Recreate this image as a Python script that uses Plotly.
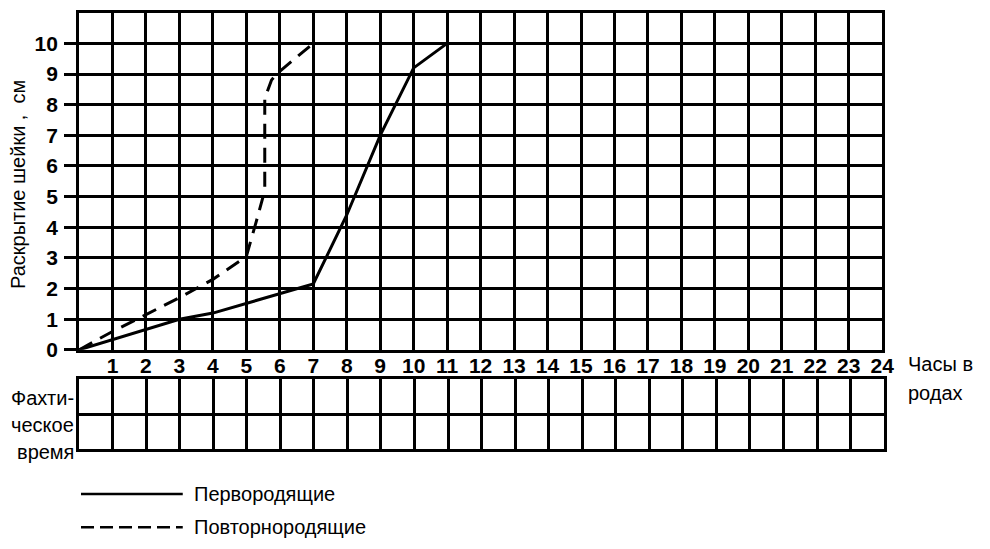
import plotly.graph_objects as go

# Cervical dilation (cm) against hours of labour
hours_primi = [0, 3, 4, 7, 8, 9, 10, 11]
dilation_primi = [0, 1, 1.2, 2.15, 4.4, 7.0, 9.2, 10]

hours_multi = [0, 1, 2, 3, 4, 5, 5.3, 5.55, 5.55, 5.75, 5.9, 7]
dilation_multi = [0, 0.6, 1.15, 1.7, 2.3, 3.05, 4.2, 5.2, 8.2, 8.8, 9.0, 10]

x_ticks = list(range(1, 25))
y_ticks = list(range(0, 11))

legend_labels = ["Первородящие", "Повторнородящие"]
y_title = "Раскрытие шейки\u00a0,\u00a0\u00a0см"
x_title = ["Часы в", "родах"]
row_title = ["Фахти-", "ческое", "время"]

W, H = 990, 549
FONT = "Liberation Sans, Arial, sans-serif"
INK = "#000000"


def px(x):
    return x / W


def py(y):
    return 1 - y / H


fig = go.Figure()

fig.add_trace(go.Scatter(
    x=hours_primi, y=dilation_primi, mode="lines",
    line=dict(color=INK, width=3), name=legend_labels[0], showlegend=False,
))
fig.add_trace(go.Scatter(
    x=hours_multi, y=dilation_multi, mode="lines",
    line=dict(color=INK, width=3, dash="15px,9px"), name=legend_labels[1],
    showlegend=False,
))
# empty trace so the time table subplot is drawn
fig.add_trace(go.Scatter(x=[None], y=[None], xaxis="x2", yaxis="y2",
                         showlegend=False, hoverinfo="skip"))

grid = dict(showgrid=True, gridcolor=INK, gridwidth=2.5, zeroline=False,
            showline=True, linecolor=INK, linewidth=3, mirror=True)

tick_font = dict(family=FONT, size=21, color=INK, weight="bold")

fig.update_layout(
    width=W, height=H,
    margin=dict(l=0, r=0, t=0, b=0),
    paper_bgcolor="white", plot_bgcolor="white",
    xaxis=dict(
        domain=[px(80), px(893)], range=[0, 24], anchor="y",
        tickmode="array", tickvals=x_ticks, ticktext=[str(v) for v in x_ticks],
        ticks="", ticklabelstandoff=-5, tickfont=tick_font,
        **grid,
    ),
    yaxis=dict(
        domain=[py(357), py(13)], range=[0, 11], anchor="x",
        tickmode="array", tickvals=y_ticks, ticktext=[str(v) for v in y_ticks],
        ticks="outside", ticklen=12, tickwidth=2.5, tickcolor=INK,
        ticklabelstandoff=2, tickfont=tick_font,
        **grid,
    ),
    xaxis2=dict(
        domain=[px(80), px(895)], range=[0, 24], anchor="y2",
        dtick=1, tick0=0, showticklabels=False, ticks="", **grid,
    ),
    yaxis2=dict(
        domain=[py(458), py(387)], range=[0, 2], anchor="x2",
        dtick=1, tick0=0, showticklabels=False, ticks="", **grid,
    ),
)

label_font = dict(family=FONT, size=20, color=INK)

annotations = [
    dict(x=px(18), y=py(188), text=y_title, textangle=-90, xanchor="center",
         font=dict(family=FONT, size=20, color=INK)),
    dict(x=px(917), y=py(371), text=x_title[0], xanchor="left", font=label_font),
    dict(x=px(917), y=py(401), text=x_title[1], xanchor="left", font=label_font),
]
for label, yy in zip(row_title, [406, 434, 461]):
    annotations.append(dict(x=px(77), y=py(yy), text=label, xanchor="right",
                            font=label_font))

# legend drawn below the table
legend_rows = [(504, "solid", legend_labels[0]), (538, "13px,6px", legend_labels[1])]
shapes = []
for yy, dash, label in legend_rows:
    shapes.append(dict(type="line", xref="paper", yref="paper",
                       x0=px(82), x1=px(185), y0=py(yy), y1=py(yy),
                       line=dict(color=INK, width=2.5, dash=dash)))
    annotations.append(dict(x=px(194), y=py(yy), text=label, xanchor="left",
                            font=label_font))

for a in annotations:
    a.setdefault("xref", "paper")
    a.setdefault("yref", "paper")
    a.setdefault("yanchor", "middle")
    a.setdefault("showarrow", False)

fig.update_layout(annotations=annotations, shapes=shapes)

fig.write_html("out.html")
